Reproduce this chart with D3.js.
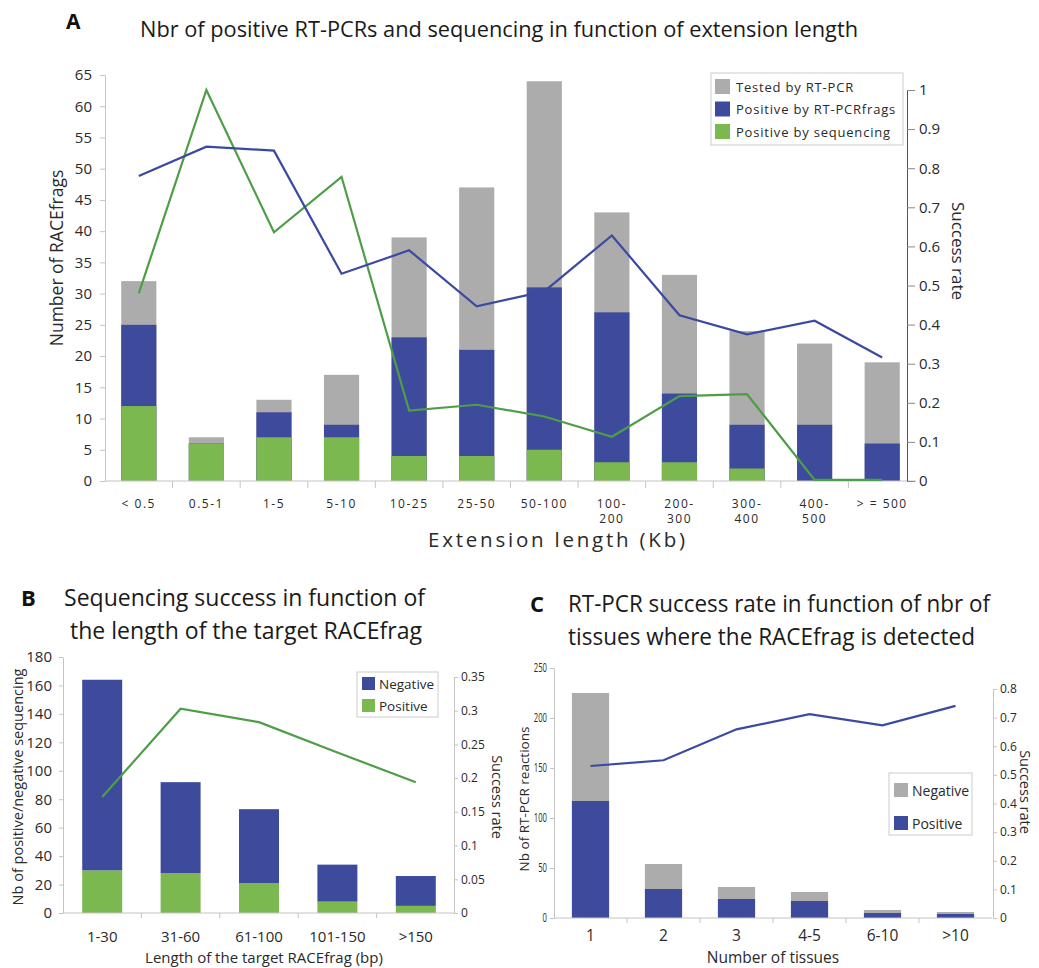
<!DOCTYPE html>
<html><head><meta charset="utf-8">
<script src="https://cdn.jsdelivr.net/npm/d3@7"></script>
<style>
body{margin:0;background:#fff}
svg{display:block;font-family:"Open Sans",sans-serif;background:#fff}
</style></head><body><svg id="c" width="1039" height="968"></svg>
<script>
// ---------- Panel A data ----------
const catsA = ["< 0.5","0.5-1","1-5","5-10","10-25","25-50","50-100","100-\n200","200-\n300","300-\n400","400-\n500","> = 500"];
const testedA = [32,7,13,17,39,47,64,43,33,24,22,19];
const posRtA  = [25,6,11,9,23,21,31,27,14,9,9,6];
const posSeqA = [12,6,7,7,4,4,5,3,3,2,0,0];
const rateRtA  = [0.78,0.855,0.845,0.53,0.59,0.447,0.485,0.628,0.424,0.375,0.41,0.316];
const rateSeqA = [0.48,1.0,0.636,0.778,0.18,0.195,0.165,0.113,0.217,0.222,0.003,0.003];
const yTicksA = [0,5,10,15,20,25,30,35,40,45,50,55,60,65];
const rTicksA = [0,0.1,0.2,0.3,0.4,0.5,0.6,0.7,0.8,0.9,1];
const legendA = ["Tested by RT-PCR","Positive by RT-PCRfrags","Positive by sequencing"];

// ---------- Panel B data ----------
const catsB = ["1-30","31-60","61-100","101-150",">150"];
const posB = [30,28,21,8,5];
const negB = [134,64,52,26,21];
const rateB = [0.172,0.303,0.283,0.238,0.194];
const yTicksB = [0,20,40,60,80,100,120,140,160,180];
const rTicksB = [0,0.05,0.1,0.15,0.2,0.25,0.3,0.35];
const legendB = ["Negative","Positive"];

// ---------- Panel C data ----------
const catsC = ["1","2","3","4-5","6-10",">10"];
const posC = [117,29,19,17,5,4];
const negC = [108,25,12,9,3,2];
const rateC = [0.531,0.551,0.659,0.712,0.673,0.741];
const yTicksC = [0,50,100,150,200,250];
const rTicksC = [0,0.1,0.2,0.3,0.4,0.5,0.6,0.7,0.8];
const legendC = ["Negative","Positive"];

const GREY="#acacac", BLUE="#3e4a9c", GREEN="#7cb850", GLINE="#4e9e48", BLINE="#3b4aa0";
const AX="#c4c4c4", TXT="#2a2a2a";

const svg = d3.select("#c");
const fmtR = d => d===0 ? "0" : String(+d.toFixed(2));

function styleAxis(g, fs, domainColor, tickColor, narrow){
  g.attr("font-size", null).attr("font-family", null);
  g.select(".domain").attr("stroke", domainColor);
  g.selectAll(".tick line").attr("stroke", tickColor);
  const t = g.selectAll(".tick text").attr("fill", TXT).style("font-size", fs+"px");
  if (narrow) t.each(function(){ const s=this.textContent; d3.select(this).attr("textLength", s.length*narrow).attr("lengthAdjust","spacingAndGlyphs"); });
}

// ================= Panel A =================
(function(){
  const g = svg.append("g");
  const xA = d3.scaleBand().domain(catsA).range([105,916]).paddingInner(0.48).paddingOuter(0.24);
  const yA = d3.scaleLinear().domain([0,65]).range([481,75]);
  const yR = d3.scaleLinear().domain([0,1]).range([481,90]);
  const bw = xA.bandwidth();

  [[testedA,GREY],[posRtA,BLUE],[posSeqA,GREEN]].forEach(([vals,col])=>{
    g.append("g").selectAll("rect").data(vals).join("rect")
      .attr("x",(d,i)=>xA(catsA[i])).attr("width",bw)
      .attr("y",d=>yA(d)).attr("height",d=>yA(0)-yA(d)).attr("fill",col);
  });

  const la = g.append("g").attr("transform","translate(105,0)")
    .call(d3.axisLeft(yA).tickValues(yTicksA).tickSize(5).tickSizeOuter(0).tickPadding(8));
  styleAxis(la,15,AX,AX);
  g.append("line").attr("x1",xA.range()[0]).attr("x2",xA.range()[1]).attr("y1",yA(0)).attr("y2",yA(0)).attr("stroke",AX);
  catsA.forEach((c,i)=>{
    if(i>0){
      const bx = xA(c) - xA.step()*xA.paddingInner()/2;
      g.append("line").attr("x1",bx).attr("x2",bx).attr("y1",yA(0)).attr("y2",yA(0)+7).attr("stroke",AX);
    }
    c.split("\n").forEach((s,k)=>{
      g.append("text").attr("x",xA(c)+bw/2).attr("y",507.5+k*15).attr("text-anchor","middle")
        .attr("fill",TXT).style("font-size","12px").style("letter-spacing","1.5px").text(s);
    });
  });
  const ra = g.append("g").attr("transform","translate(907,0)")
    .call(d3.axisRight(yR).tickValues(rTicksA).tickSize(8).tickSizeOuter(0).tickPadding(4).tickFormat(fmtR));
  styleAxis(ra,15,"#555","#888");

  const ln = d3.line().x((d,i)=>xA(catsA[i])+bw/2).y(d=>yR(d));
  g.append("path").attr("d",ln(rateSeqA)).attr("fill","none").attr("stroke",GLINE).attr("stroke-width",2.2);
  g.append("path").attr("d",ln(rateRtA)).attr("fill","none").attr("stroke",BLINE).attr("stroke-width",2.2);

  const lg = g.append("g");
  lg.append("rect").attr("x",711).attr("y",73).attr("width",192).attr("height",72).attr("fill","#fff").attr("stroke","#ccc");
  [GREY,BLUE,GREEN].forEach((col,k)=>{
    lg.append("rect").attr("x",715).attr("y",79+k*22.5).attr("width",15).attr("height",15).attr("fill",col);
    lg.append("text").attr("x",736).attr("y",91.5+k*22.5).attr("fill",TXT)
      .style("font-size","13px").style("letter-spacing","0.8px").text(legendA[k]);
  });

  g.append("text").attr("x",66).attr("y",29).attr("fill","#111").style("font-size","21px").style("font-weight","bold").text("A");
  g.append("text").attr("x",140).attr("y",37).attr("fill","#1a1a1a")
    .style("font-size","21px").attr("textLength",718).attr("lengthAdjust","spacingAndGlyphs")
    .text("Nbr of positive RT-PCRs and sequencing in function of extension length");
  g.append("text").attr("transform","translate(63,258) rotate(-90)").attr("text-anchor","middle").attr("fill",TXT)
    .style("font-size","17.5px").text("Number of RACEfrags");
  g.append("text").attr("transform","translate(952,251) rotate(90)").attr("text-anchor","middle").attr("fill",TXT)
    .style("font-size","17px").text("Success rate");
  g.append("text").attr("x",428).attr("y",547).attr("fill",TXT)
    .style("font-size","20.5px").attr("textLength",257).attr("lengthAdjust","spacing").text("Extension length (Kb)");
})();

// ================= Panels B & C =================
function panel(o){
  const g = svg.append("g");
  const x = d3.scaleBand().domain(o.cats).range(o.xr).paddingInner(o.pi).paddingOuter(o.pi/2);
  const y = d3.scaleLinear().domain([0,o.ymax]).range([o.base,o.ytop]);
  const yR = d3.scaleLinear().domain([0,o.rmax]).range([o.base,o.rtop]);
  const bw = x.bandwidth();
  const rows = o.cats.map((c,i)=>({c, bottom:o.lower[i], top:o.upper[i]}));
  const stack = d3.stack().keys(["bottom","top"])(rows);
  stack.forEach((s,k)=>{
    g.append("g").selectAll("rect").data(s).join("rect")
      .attr("x",d=>x(d.data.c)).attr("width",bw)
      .attr("y",d=>y(d[1])).attr("height",d=>y(d[0])-y(d[1])).attr("fill",o.colors[k]);
  });
  const la = g.append("g").attr("transform",`translate(${o.xr[0]},0)`)
    .call(d3.axisLeft(y).tickValues(o.yTicks).tickSize(4).tickSizeOuter(0).tickPadding(o.lpad));
  styleAxis(la,o.lfs,AX,AX,o.narrow);
  g.append("line").attr("x1",o.xr[0]).attr("x2",o.xr[1]).attr("y1",o.base).attr("y2",o.base).attr("stroke",AX);
  o.cats.forEach((c,i)=>{
    if(i>0){
      const bx = x(c) - x.step()*x.paddingInner()/2;
      g.append("line").attr("x1",bx).attr("x2",bx).attr("y1",o.base).attr("y2",o.base+5).attr("stroke",AX);
    }
    g.append("text").attr("x",x(c)+bw/2).attr("y",o.tickY).attr("text-anchor","middle").attr("fill",TXT)
      .style("font-size",o.tfs+"px").text(c);
  });
  const ra = g.append("g").attr("transform",`translate(${o.rx},0)`)
    .call(d3.axisRight(yR).tickValues(o.rTicks).tickSize(4).tickSizeOuter(0).tickPadding(3).tickFormat(fmtR));
  styleAxis(ra,o.rfs,AX,AX);
  const ln = d3.line().x((d,i)=>x(o.cats[i])+bw/2).y(d=>yR(d));
  g.append("path").attr("d",ln(o.rate)).attr("fill","none").attr("stroke",o.lineColor).attr("stroke-width",2.2);
  const L=o.leg;
  g.append("rect").attr("x",L.x).attr("y",L.y).attr("width",L.w).attr("height",L.h).attr("fill","#fff").attr("stroke","#ccc");
  o.legItems.forEach((t,k)=>{
    g.append("rect").attr("x",L.x+5).attr("y",L.y+L.top+k*L.gap).attr("width",L.sw).attr("height",L.sw).attr("fill",L.colors[k]);
    g.append("text").attr("x",L.x+L.sw+9).attr("y",L.y+L.top+k*L.gap+L.sw-1.5).attr("fill",TXT)
      .style("font-size",L.fs+"px").text(t);
  });
  g.append("text").attr("x",o.letter[0]).attr("y",o.letter[1]).attr("fill","#111").style("font-size","22px").style("font-weight","bold").text(o.letter[2]);
  o.title.forEach(([t,tx,ty,len])=>{
    g.append("text").attr("x",tx).attr("y",ty).attr("fill","#1a1a1a").style("font-size","24px")
      .attr("textLength",len).attr("lengthAdjust","spacingAndGlyphs").text(t);
  });
  g.append("text").attr("transform",`translate(${o.yl[0]},${o.yl[1]}) rotate(-90)`).attr("text-anchor","middle").attr("fill",TXT)
    .style("font-size",o.yl[2]+"px").text(o.yl[3]);
  g.append("text").attr("transform",`translate(${o.rl[0]},${o.rl[1]}) rotate(90)`).attr("text-anchor","middle").attr("fill",TXT)
    .style("font-size",o.rl[2]+"px").text("Success rate");
  g.append("text").attr("x",o.xl[0]).attr("y",o.xl[1]).attr("text-anchor","middle").attr("fill",TXT)
    .style("font-size",o.xl[2]+"px").text(o.xl[3]);
}

panel({
  cats:catsB, lower:posB, upper:negB, colors:[GREEN,BLUE], rate:rateB, lineColor:GLINE,
  xr:[63,455], pi:0.49, ymax:180, ytop:657, base:913, rmax:0.35, rtop:677, rx:454,
  yTicks:yTicksB, rTicks:rTicksB, lfs:15, lpad:7, rfs:12, tfs:15, tickY:942,
  leg:{x:357,y:672,w:81,h:45,top:5,gap:22,sw:13,fs:13.5,colors:[BLUE,GREEN]}, legItems:legendB,
  letter:[21,606,"B"],
  title:[["Sequencing success in function of",64,606,361],["the length of the target RACEfrag",70,639,352]],
  yl:[23,787,14.5,"Nb of positive/negative sequencing"],
  rl:[492,797,14.5], xl:[264,963,15,"Length of the target RACEfrag (bp)"]
});

panel({
  cats:catsC, lower:posC, upper:negC, colors:[BLUE,GREY], rate:rateC, lineColor:BLINE,
  xr:[554,992], pi:0.49, ymax:250, ytop:668, base:918, rmax:0.8, rtop:689, rx:993,
  yTicks:yTicksC, rTicks:rTicksC, lfs:12, lpad:3, narrow:4.4, rfs:12, tfs:15.5, tickY:941,
  leg:{x:889,y:773,w:83,h:62,top:10,gap:33,sw:14,fs:14,colors:[GREY,BLUE]}, legItems:legendC,
  letter:[530,612,"C"],
  title:[["RT-PCR success rate in function of nbr of",568,612,422],["tissues where the RACEfrag is detected",568,645,407]],
  yl:[529,799,13.5,"Nb of RT-PCR reactions"],
  rl:[1020,792,14.5], xl:[773,963,15.5,"Number of tissues"]
});
</script></body></html>
